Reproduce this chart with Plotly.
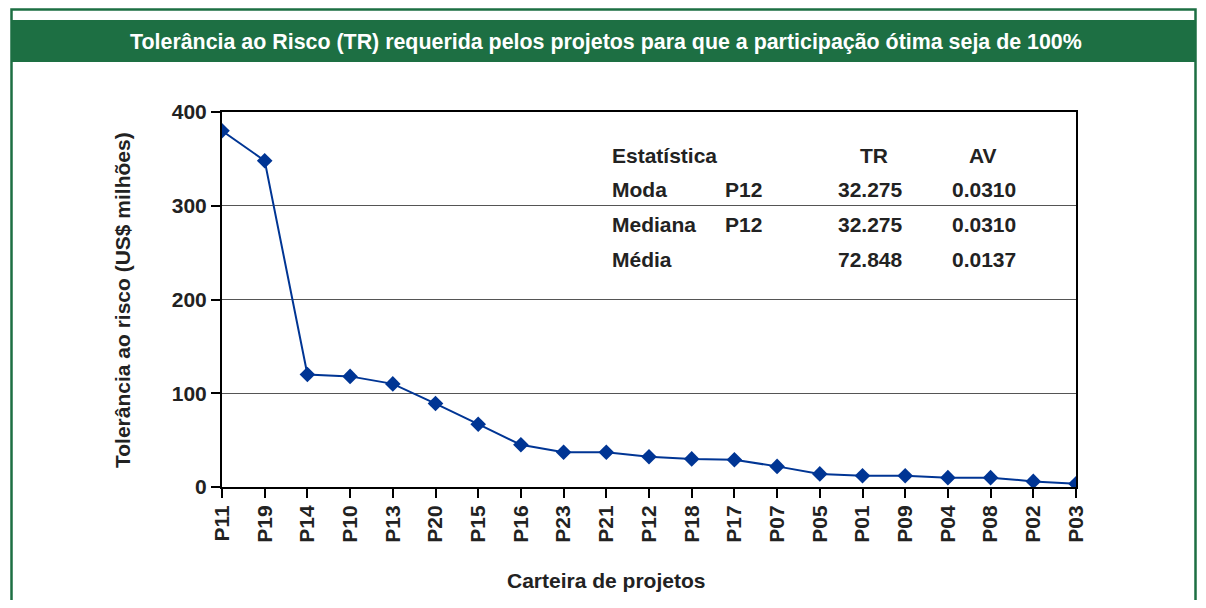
import plotly.graph_objects as go

projects = ["P11", "P19", "P14", "P10", "P13", "P20", "P15", "P16", "P23", "P21",
            "P12", "P18", "P17", "P07", "P05", "P01", "P09", "P04", "P08", "P02", "P03"]
tolerance = [380, 348, 120, 118, 110, 89, 67, 45, 37, 37,
             32.275, 30, 29, 22, 14, 12, 12, 10, 10, 6, 3.5]

y_ticks = [0, 100, 200, 300, 400]

table_header = ["Estatística", "TR", "AV"]
stat_names = ["Moda", "Mediana", "Média"]
stat_proj = ["P12", "P12", ""]
stat_tr = ["32.275", "32.275", "72.848"]
stat_av = ["0.0310", "0.0310", "0.0137"]

GREEN = "#1d6f43"
BLUE = "#003594"
FONT = "Liberation Sans, Arial, sans-serif"
FS = 21

# page has an 8px body margin; reference coordinates are shifted by it
OFF = 8
W, H = 1206 - OFF, 608 - 2 * OFF
L, R, T, B = 222 - OFF, 130, 112 - OFF, 121 - OFF
PW, PH = W - L - R, H - T - B

def px(x):
    return (x - OFF - L) / PW

def py(y):
    return (H - B - (y - OFF)) / PH

fig = go.Figure()
fig.add_trace(go.Scatter(
    x=list(range(len(projects))), y=tolerance, mode="lines+markers",
    line=dict(color=BLUE, width=2),
    marker=dict(symbol="diamond", size=12, color=BLUE),
    showlegend=False, hoverinfo="x+y",
))

shapes = [
    dict(type="rect", xref="paper", yref="paper", x0=px(11.5), x1=px(1195.5), y0=py(9.5), y1=py(660),
         line=dict(color=GREEN, width=2.5), fillcolor="rgba(0,0,0,0)", layer="below"),
    dict(type="rect", xref="paper", yref="paper", x0=px(11.5), x1=px(1195.5), y0=py(20), y1=py(62),
         line=dict(width=0), fillcolor=GREEN, layer="below"),
]

annotations = [
    dict(text="Tolerância ao Risco (TR) requerida pelos projetos para que a participação ótima seja de 100%",
         xref="paper", yref="paper", x=px(606), y=py(42), showarrow=False,
         font=dict(family=FONT, size=21.4, color="white", weight="bold"), xanchor="center", yanchor="middle"),
    dict(text="Tolerância ao risco (US$ milhões)", xref="paper", yref="paper", x=px(122), y=py(300),
         showarrow=False, textangle=-90, xanchor="center", yanchor="middle",
         font=dict(family=FONT, size=FS, color="#222222", weight="bold")),
    dict(text="Carteira de projetos", xref="paper", yref="paper", x=px(606), y=py(580),
         showarrow=False, xanchor="center", yanchor="middle",
         font=dict(family=FONT, size=FS, color="#222222", weight="bold")),
]

row_y = [155, 189, 224, 259]
fnt = dict(family=FONT, size=FS, color="#222222", weight="bold")
def add_text(t, x, y, anchor):
    annotations.append(dict(text=t, xref="paper", yref="paper", x=px(x), y=py(y), showarrow=False,
                            font=fnt, xanchor=anchor, yanchor="middle"))

add_text(table_header[0], 610, row_y[0], "left")
add_text(table_header[1], 874, row_y[0], "center")
add_text(table_header[2], 983, row_y[0], "center")
for i in range(3):
    yy = row_y[i + 1]
    add_text(stat_names[i], 610, yy, "left")
    if stat_proj[i]:
        add_text(stat_proj[i], 723, yy, "left")
    add_text(stat_tr[i], 870, yy, "center")
    add_text(stat_av[i], 984, yy, "center")

fig.update_layout(
    width=W, height=H,
    margin=dict(l=L, r=R, t=T, b=B),
    paper_bgcolor="white", plot_bgcolor="white",
    font=dict(family=FONT, color="#222222"),
    shapes=shapes, annotations=annotations,
    xaxis=dict(
        range=[0, len(projects) - 1], tickmode="array",
        tickvals=list(range(len(projects))), ticktext=projects,
        tickangle=-90, ticks="outside", ticklen=9, tickcolor="black", tickwidth=1.5,
        ticklabelstandoff=-1,
        showline=True, linecolor="black", linewidth=2, mirror=True,
        showgrid=False, zeroline=False,
        tickfont=dict(family=FONT, size=FS, color="#222222", weight="bold"),
    ),
    yaxis=dict(
        range=[0, 400], tickmode="array", tickvals=y_ticks,
        ticks="outside", ticklen=9, tickcolor="black", tickwidth=1.5,
        ticklabelstandoff=0,
        showline=True, linecolor="black", linewidth=2, mirror=True,
        showgrid=True, gridcolor="#555555", gridwidth=1, zeroline=False,
        tickfont=dict(family=FONT, size=FS, color="#222222", weight="bold"),
    ),
)

fig.write_html("out.html")
